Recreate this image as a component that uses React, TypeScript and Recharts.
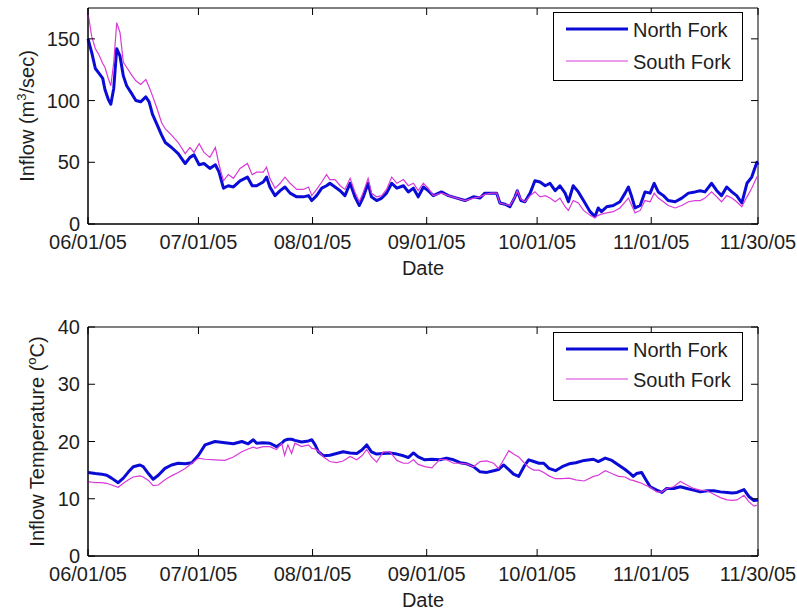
import { LineChart, Line, XAxis, YAxis, ReferenceArea, Legend } from "recharts";

// day offsets from 06/01/05
const tickDays = [0, 30, 61, 92, 122, 153, 182];
const tickLabels = ["06/01/05", "07/01/05", "08/01/05", "09/01/05", "10/01/05", "11/01/05", "11/30/05"];

const flowTicks = [0, 50, 100, 150];
const tempTicks = [0, 10, 20, 30, 40];

const flowDays = [
  0, 1, 2, 3, 4, 4.6, 5.5, 6.2, 7, 7.8,
  8.7, 9.6, 10.5, 12, 13, 14.3, 15.7, 16.6, 17.5, 18.7,
  20, 21, 22.7, 24.5, 26.4, 27.7, 28.8, 30.2, 31.5, 33.1,
  34.6, 35.6, 36.8, 38.1, 39.5, 41.3, 43.3, 44.6, 45.8, 47.6,
  48.5, 49.4, 50.8, 52.2, 53.5, 54.9, 56.7, 58.5, 59.9, 60.8,
  62.1, 63.5, 64.8, 65.7, 67.1, 68.5, 69.8, 71.2, 72.5, 73.7,
  74.8, 76.1, 77, 78.4, 79.8, 81.1, 82.5, 83.9, 85.7, 87,
  88.4, 89.7, 91.1, 92.4, 93.8, 96, 97.9, 100.2, 102.4, 104.7,
  106.5, 107.8, 109.7, 111, 111.9, 113.3, 114.6, 116, 116.6, 117.6,
  118.7, 120.1, 121.4, 122.8, 124.2, 125.5, 126.9, 128.2, 129.6, 130.5,
  131.8, 133.2, 134.6, 136.4, 137.7, 138.6, 139.5, 140.9, 142.7, 144.5,
  145.9, 146.8, 147.7, 148.6, 150, 151.3, 152.7, 153.8, 154.9, 156.3,
  157.6, 159.5, 161.3, 163.1, 164.9, 166.3, 167.6, 169.4, 170.8, 172.1,
  173.5, 174.9, 176.2, 177.6, 179, 180.3, 181.7, 182,
];

const northFlow = [
  150, 139, 126, 122, 118, 109, 101, 97, 110, 142,
  136, 120, 112, 105, 100, 99, 103, 99, 89, 81,
  72, 66, 62, 57, 49, 54, 56, 48, 49, 45,
  48, 42, 29, 31, 30, 35, 38, 31, 31, 34,
  38, 30, 23, 27, 30, 25, 22, 22, 23, 19,
  23, 29, 31, 33, 30, 27, 23, 33, 22, 15,
  22, 33, 22, 19, 21, 25, 33, 29, 31, 26,
  29, 22, 30, 27, 23, 26, 23, 21, 19, 22,
  21, 25, 25, 25, 17, 16, 14, 22, 27, 19,
  18, 25, 35, 34, 31, 33, 27, 31, 25, 18,
  31, 26, 19, 10, 6, 13, 10, 14, 15, 18,
  25, 30, 22, 13, 15, 26, 25, 33, 26, 23,
  19, 18, 21, 25, 26, 27, 26, 33, 27, 23,
  30, 26, 23, 17, 33, 38, 50, 48,
];

const southFlow = [
  171, 152, 142, 137, 130, 127, 118, 112, 131, 163,
  155, 131, 127, 120, 116, 113, 117, 111, 104, 94,
  82, 77, 72, 66, 57, 62, 58, 65, 58, 54,
  62, 48, 35, 40, 37, 45, 49, 40, 42, 42,
  46, 37, 29, 33, 38, 33, 28, 28, 30, 23,
  28, 34, 40, 36, 36, 31, 28, 37, 26, 18,
  26, 37, 25, 22, 23, 28, 38, 33, 36, 31,
  33, 27, 33, 29, 23, 25, 23, 21, 19, 21,
  22, 24, 25, 25, 17, 16, 15, 22, 27, 20,
  18, 23, 26, 22, 23, 21, 18, 21, 14, 11,
  19, 17, 11, 7, 5, 7, 8, 9, 10, 13,
  18, 21, 15, 9, 11, 19, 18, 25, 21, 18,
  15, 13, 15, 18, 19, 19, 21, 26, 22, 18,
  23, 21, 18, 14, 22, 29, 38, 37,
];

const tempDays = [
  0, 2, 3.7, 5.1, 6.4, 8.2, 9.6, 11, 12.3, 14.1,
  15, 16.4, 17.7, 19.1, 20.9, 22.7, 24.5, 26.4, 28.2, 30,
  31.8, 34.5, 37.2, 39.5, 41.8, 43.5, 44.9, 45.8, 47.6, 49.4,
  51.2, 52.6, 53.4, 54.3, 55.3, 56.2, 58, 59.9, 60.8, 61.7,
  62.6, 64, 65.7, 67.5, 69.3, 71.2, 73, 74.4, 75.7, 77,
  78.4, 80.2, 82, 83.9, 85.7, 87, 88.4, 89.7, 91.5, 93.4,
  95.6, 97.4, 99.3, 101.1, 102.9, 104.7, 106.5, 108.3, 110.2, 111.5,
  112.9, 114.3, 115.6, 117, 118.4, 119.7, 121.1, 122.5, 123.8, 125.2,
  127, 128.8, 130.7, 132.5, 134.8, 137.3, 138.6, 140.5, 142.3, 144.1,
  145.9, 147.3, 148.1, 149, 150.4, 151.3, 152.7, 154.5, 155.9, 157.2,
  159.1, 160.9, 162.7, 164.5, 166.3, 168.2, 170, 171.8, 173.6, 175,
  176.3, 178.2, 179.5, 180.9, 182,
];

const northTemp = [
  14.6, 14.4, 14.3, 14.1, 13.6, 12.8, 13.6, 14.7, 15.6, 15.9,
  15.6, 14.4, 13.4, 14.1, 15.3, 15.9, 16.2, 16.1, 16.3, 17.6,
  19.4, 20.0, 19.8, 19.6, 20.0, 19.6, 20.3, 19.7, 19.8, 19.7,
  19.1, 19.7, 20.2, 20.4, 20.4, 20.2, 19.9, 20.1, 20.3, 19.4,
  18.2, 17.5, 17.6, 17.9, 18.2, 18.0, 17.9, 18.5, 19.4, 18.2,
  17.8, 17.9, 18.0, 17.8, 17.5, 17.2, 18.0, 17.3, 16.8, 16.9,
  16.8, 17.1, 16.8, 16.3, 16.1, 15.6, 14.7, 14.6, 14.9, 15.1,
  15.9, 15.1, 14.3, 13.9, 15.6, 16.8, 16.5, 16.2, 16.2, 15.3,
  14.9, 15.6, 16.1, 16.3, 16.7, 16.9, 16.5, 17.1, 16.7, 15.9,
  15.1, 14.4, 13.9, 14.4, 14.6, 13.6, 12.1, 11.5, 11.1, 11.8,
  11.8, 12.1, 11.8, 11.5, 11.2, 11.4, 11.4, 11.2, 11.1, 11.0,
  11.1, 11.6, 10.4, 9.7, 9.8,
];

const southTemp = [
  13.0, 12.8, 12.8, 12.7, 12.4, 12.0, 12.7, 13.3, 13.8, 14.0,
  13.8, 13.2, 12.3, 12.4, 13.3, 14.0, 14.6, 15.3, 16.2, 17.1,
  16.9, 16.8, 16.7, 17.3, 18.2, 18.7, 19.0, 18.8, 19.1, 19.1,
  18.6, 19.7, 17.6, 19.4, 17.9, 19.7, 19.1, 19.4, 18.8, 18.7,
  18.3, 17.3, 16.5, 16.3, 16.6, 17.4, 16.8, 17.5, 18.6, 17.3,
  16.4, 18.2, 18.2, 16.7, 16.2, 16.2, 16.8, 16.0, 15.6, 15.4,
  16.9, 16.8, 16.2, 16.2, 16.1, 15.6, 16.5, 16.6, 16.2, 15.3,
  16.8, 18.4, 17.8, 17.3, 16.3, 15.5, 15.0, 15.0, 14.6, 14.0,
  13.5, 13.5, 13.6, 13.3, 13.1, 13.9, 14.1, 14.9, 14.4, 13.9,
  13.8, 13.3, 13.2, 13.0, 12.7, 12.4, 12.0, 11.2, 11.2, 11.8,
  12.1, 13.0, 12.4, 11.8, 11.5, 11.4, 10.8, 10.2, 9.8, 9.7,
  9.8, 10.6, 9.5, 8.7, 8.9,
];

const flowRows = flowDays.map((day, i) => ({ day, north: northFlow[i], south: southFlow[i] }));
const tempRows = tempDays.map((day, i) => ({ day, north: northTemp[i], south: southTemp[i] }));

const FONT = "'Liberation Sans', Arial, sans-serif";
const INK = "#1e1e1e";
const NORTH_COLOR = "#0b0bd6";
const SOUTH_COLOR = "#d83ad8";
const lineWidths = [3, 1.2];

const CHART_W = 797;
const PLOT_LEFT = 88;
const PLOT_W = 670;
const TICK_LEN = 7;

const makeXTick = (plotH: number) => (props: any) => {
  const { x, y, payload } = props;
  const i = tickDays.indexOf(payload.value);
  return (
    <g>
      <line x1={x} x2={x} y1={y} y2={y - TICK_LEN} stroke="#000" />
      <line x1={x} x2={x} y1={y - plotH} y2={y - plotH + TICK_LEN} stroke="#000" />
      <text x={x} y={y + 25} textAnchor="middle" fontFamily={FONT} fontSize={20} fill={INK}>
        {tickLabels[i]}
      </text>
    </g>
  );
};

const YTick = (props: any) => {
  const { x, y, payload } = props;
  return (
    <g>
      <line x1={x} x2={x + TICK_LEN} y1={y} y2={y} stroke="#000" />
      <line x1={x + PLOT_W} x2={x + PLOT_W - TICK_LEN} y1={y} y2={y} stroke="#000" />
      <text x={x - 8} y={y} dy={7} textAnchor="end" fontFamily={FONT} fontSize={20} fill={INK}>
        {payload.value}
      </text>
    </g>
  );
};

const DateLabel = (props: any) => {
  const vb = props.viewBox || {};
  return (
    <text x={vb.x + vb.width / 2} y={vb.y + 51} textAnchor="middle" fontFamily={FONT} fontSize={20} fill={INK}>
      Date
    </text>
  );
};

const renderLegend = (rowGap: number) => (props: any) => {
  const items = props.payload || [];
  return (
    <svg width={190} height={69} style={{ display: "block" }}>
      <rect x={0.5} y={0.5} width={189} height={68} fill="#fff" stroke="#000" />
      {items.map((it: any, i: number) => {
        const cy = 17 + i * rowGap;
        return (
          <g key={it.value}>
            <line x1={13} x2={75} y1={cy} y2={cy} stroke={it.color} strokeWidth={lineWidths[i]} />
            <text x={80} y={cy + 8} fontFamily={FONT} fontSize={20} fill={INK}>
              {it.value}
            </text>
          </g>
        );
      })}
    </svg>
  );
};

type PanelProps = {
  rows: { day: number; north: number; south: number }[];
  yMax: number;
  yTicks: number[];
  height: number;
  top: number;
  xAxisHeight: number;
  legendTop: number;
  legendGap: number;
  yLabel: (props: any) => any;
};

const Panel = ({ rows, yMax, yTicks, height, top, xAxisHeight, legendTop, legendGap, yLabel }: PanelProps) => {
  const plotH = height - top - xAxisHeight;
  return (
    <LineChart width={CHART_W} height={height} data={rows} margin={{ top, right: CHART_W - PLOT_LEFT - PLOT_W, bottom: 0, left: 0 }}>
      <XAxis
        dataKey="day"
        type="number"
        domain={[0, 182]}
        ticks={tickDays}
        height={xAxisHeight}
        tickSize={0}
        tickMargin={0}
        tickLine={false}
        stroke="#000"
        tick={makeXTick(plotH)}
        interval={0}
        label={{ content: DateLabel }}
      />
      <YAxis
        type="number"
        domain={[0, yMax]}
        ticks={yTicks}
        width={PLOT_LEFT}
        tickSize={0}
        tickMargin={0}
        tickLine={false}
        stroke="#000"
        tick={YTick}
        interval={0}
        allowDataOverflow
        label={{ content: yLabel }}
      />
      <ReferenceArea x1={0} x2={182} y1={0} y2={yMax} fill="none" stroke="#000" strokeWidth={1} />
      <Line
        dataKey="north"
        name="North Fork"
        stroke={NORTH_COLOR}
        strokeWidth={lineWidths[0]}
        dot={false}
        type="linear"
        strokeLinejoin="round"
        isAnimationActive={false}
      />
      <Line
        dataKey="south"
        name="South Fork"
        stroke={SOUTH_COLOR}
        strokeWidth={lineWidths[1]}
        dot={false}
        type="linear"
        isAnimationActive={false}
      />
      <Legend
        layout="vertical"
        align="center"
        verticalAlign="middle"
        content={renderLegend(legendGap)}
        wrapperStyle={{ left: 553, top: legendTop, width: 190, height: 69 }}
      />
    </LineChart>
  );
};

const FlowLabel = (props: any) => {
  const vb = props.viewBox || {};
  const cy = vb.y + vb.height / 2;
  return (
    <text x={34} y={cy} transform={`rotate(-90 34 ${cy})`} textAnchor="middle" fontFamily={FONT} fontSize={20} fill={INK}>
      Inflow (m<tspan dy={-8} fontSize={13}>3</tspan>
      <tspan dy={8}>/sec)</tspan>
    </text>
  );
};

const TempLabel = (props: any) => {
  const vb = props.viewBox || {};
  const cy = vb.y + vb.height / 2;
  return (
    <text x={44} y={cy} transform={`rotate(-90 44 ${cy})`} textAnchor="middle" fontFamily={FONT} fontSize={20} fill={INK}>
      Inflow Temperature (<tspan dy={-8} fontSize={13}>o</tspan>
      <tspan dy={8}>C)</tspan>
    </text>
  );
};

export default function App() {
  return (
    <div style={{ position: "absolute", left: 0, top: 0, width: 797, height: 611, background: "#fff", overflow: "hidden" }}>
      <div style={{ position: "absolute", left: 0, top: 0 }}>
        <Panel
          rows={flowRows}
          yMax={175}
          yTicks={flowTicks}
          height={300}
          top={8}
          xAxisHeight={76}
          legendTop={12}
          legendGap={32}
          yLabel={FlowLabel}
        />
      </div>
      <div style={{ position: "absolute", left: 0, top: 300 }}>
        <Panel
          rows={tempRows}
          yMax={40}
          yTicks={tempTicks}
          height={311}
          top={27}
          xAxisHeight={55}
          legendTop={32}
          legendGap={30}
          yLabel={TempLabel}
        />
      </div>
    </div>
  );
}
